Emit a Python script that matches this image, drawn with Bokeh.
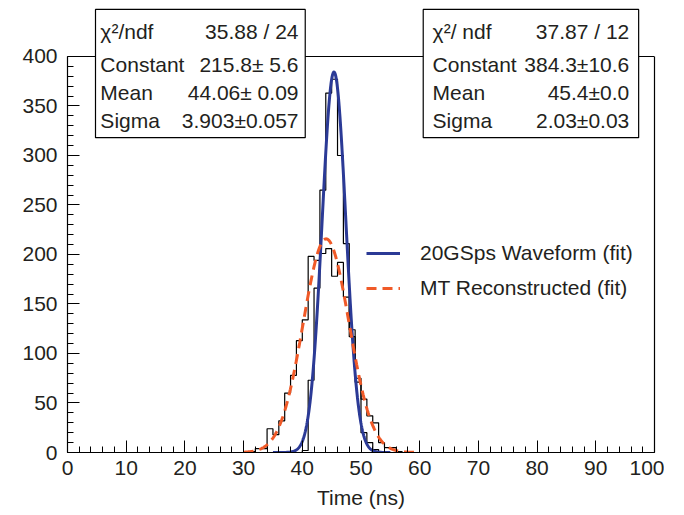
import numpy as np
from bokeh.plotting import figure
from bokeh.models import (FixedTicker, Range1d, BoxAnnotation, Label, Legend,
                          LegendItem, LinearAxis, Span)
from bokeh.embed import file_html
from bokeh.resources import INLINE

# ---- data -----------------------------------------------------------------
# MT reconstructed time histogram, 1 ns bins, lower bin edges
mt_bin_lo = list(range(30, 57))
mt_counts = [1, 1, 4, 4, 24, 18, 32, 60, 78, 113, 134, 198, 194, 201, 206,
             178, 192, 157, 117, 75, 54, 37, 30, 10, 5, 5, 1]
# 20 GSps waveform time histogram, 1 ns bins
wf_bin_lo = list(range(39, 54))
wf_counts = [0, 2, 73, 166, 265, 363, 377, 300, 211, 124, 71, 20, 10, 3, 1]

# Gaussian fit results (as printed in the stat boxes)
mt_fit = {"const": 215.8, "mean": 44.06, "sigma": 3.903}
wf_fit = {"const": 384.3, "mean": 45.4, "sigma": 2.03}
mt_fit_range = (30.0, 60.0)
wf_fit_range = (35.0, 55.0)

# stat box texts
stat_names_mt = ["χ²/ndf", "Constant", "Mean", "Sigma"]
stat_vals_mt = ["35.88 / 24", "215.8± 5.6", "44.06± 0.09", "3.903±0.057"]
stat_names_wf = ["χ²/ ndf", "Constant", "Mean", "Sigma"]
stat_vals_wf = ["37.87 / 12", "384.3±10.6", "45.4±0.0", "2.03±0.03"]

x_ticks = list(range(0, 101, 10))
x_minor = list(range(0, 101, 2))
y_ticks = list(range(0, 401, 50))
y_minor = list(range(0, 401, 10))
y_axis_max = 400

legend_labels = ["20GSps Waveform (fit)", "MT Reconstructed (fit)"]
x_title = "Time (ns)"

# ---- styling ---------------------------------------------------------------
FONT = "Liberation Sans"
TXT = "#231f20"
BLUE = "#2b3a96"
RED = "#f05a28"
FS = "21px"


def step_xy(bin_lo, counts, width=1.0):
    xs = [bin_lo[0]]
    ys = [0.0]
    for lo, c in zip(bin_lo, counts):
        xs.append(lo)
        ys.append(c)
    xs.append(bin_lo[-1] + width)
    ys.append(0.0)
    return xs, ys


def gauss_curve(fit, rng, n=400):
    x = np.linspace(rng[0], rng[1], n)
    y = fit["const"] * np.exp(-0.5 * ((x - fit["mean"]) / fit["sigma"]) ** 2)
    return x, y


# frame extends above the y=400 line so that the stat boxes are not clipped;
# the visible frame is built from the bounded axes and a span at y=400
p = figure(frame_width=587, frame_height=447,
           x_range=Range1d(0, 100), y_range=Range1d(0, 451.5),
           output_backend="svg", toolbar_location=None,
           min_border_left=67, min_border_right=10, min_border_top=5,
           min_border_bottom=40)
p.background_fill_color = "white"
p.border_fill_color = "white"
p.outline_line_color = None
p.xgrid.visible = False
p.ygrid.visible = False

right_axis = LinearAxis(ticker=FixedTicker(ticks=[]), bounds=(0, y_axis_max),
                        axis_line_color="black", axis_line_width=1.2,
                        major_label_text_font_size="0px")
p.add_layout(right_axis, "right")

for ax in (p.xaxis[0], p.yaxis[0]):
    ax.axis_line_color = "black"
    ax.axis_line_width = 1.2
    ax.major_tick_in = 12
    ax.major_tick_out = 0
    ax.minor_tick_in = 6
    ax.minor_tick_out = 0
    ax.major_tick_line_color = "black"
    ax.minor_tick_line_color = "black"
    ax.major_tick_line_width = 1
    ax.minor_tick_line_width = 1
    ax.major_label_text_font = FONT
    ax.major_label_text_font_size = FS
    ax.major_label_text_color = TXT
    ax.axis_label_text_font = FONT
    ax.axis_label_text_font_size = FS
    ax.axis_label_text_font_style = "normal"
    ax.axis_label_text_color = TXT

p.yaxis[0].bounds = (0, y_axis_max)
p.xaxis.ticker = FixedTicker(ticks=x_ticks, minor_ticks=x_minor)
p.yaxis[0].ticker = FixedTicker(ticks=y_ticks, minor_ticks=y_minor)
p.xaxis.major_label_standoff = 8
p.yaxis[0].major_label_standoff = 10
p.xaxis.axis_label = x_title
p.xaxis.axis_label_standoff = 8

p.add_layout(Span(location=y_axis_max, dimension="width",
                  line_color="black", line_width=1.2))

# histograms
hx, hy = step_xy(mt_bin_lo, mt_counts)
p.step(hx, hy, mode="after", line_color="black", line_width=1.2)
hx2, hy2 = step_xy(wf_bin_lo, wf_counts)
p.step(hx2, hy2, mode="after", line_color="black", line_width=1.2)

# fits
gx, gy = gauss_curve(wf_fit, wf_fit_range)
r_wf = p.line(gx, gy, line_color=BLUE, line_width=3)
gx2, gy2 = gauss_curve(mt_fit, mt_fit_range)
r_mt = p.line(gx2, gy2, line_color=RED, line_width=3, line_dash="10 6")

legend = Legend(items=[LegendItem(label=legend_labels[0], renderers=[r_wf]),
                       LegendItem(label=legend_labels[1], renderers=[r_mt])],
                location=(299, 152), orientation="vertical",
                border_line_color=None, background_fill_alpha=0,
                padding=0, margin=0, spacing=11, glyph_width=34,
                glyph_height=24, label_height=24, label_standoff=20,
                label_text_font=FONT, label_text_font_size=FS,
                label_text_color=TXT)
p.add_layout(legend, "center")

# stat boxes (drawn in data units so they line up with the frame)
box_specs = [
    (4.77, 40.5, 5.6, 39.35, stat_names_mt, stat_vals_mt),
    (60.6, 97.3, 62.2, 95.7, stat_names_wf, stat_vals_wf),
]
row_y = [425, 392, 363.6, 335]
for left, right, tx, vx, names, vals in box_specs:
    p.add_layout(BoxAnnotation(left=left, right=right, bottom=318, top=447.5,
                               fill_color="white", fill_alpha=1.0,
                               line_color="black", line_width=1.2, line_alpha=1.0))
    for yy, nm, vl in zip(row_y, names, vals):
        p.add_layout(Label(x=tx, y=yy, text=nm, text_align="left",
                           text_baseline="middle", text_font=FONT,
                           text_font_size=FS, text_color=TXT))
        p.add_layout(Label(x=vx, y=yy, text=vl, text_align="right",
                           text_baseline="middle", text_font=FONT,
                           text_font_size=FS, text_color=TXT))

open("out.html", "w").write(file_html(p, INLINE))
